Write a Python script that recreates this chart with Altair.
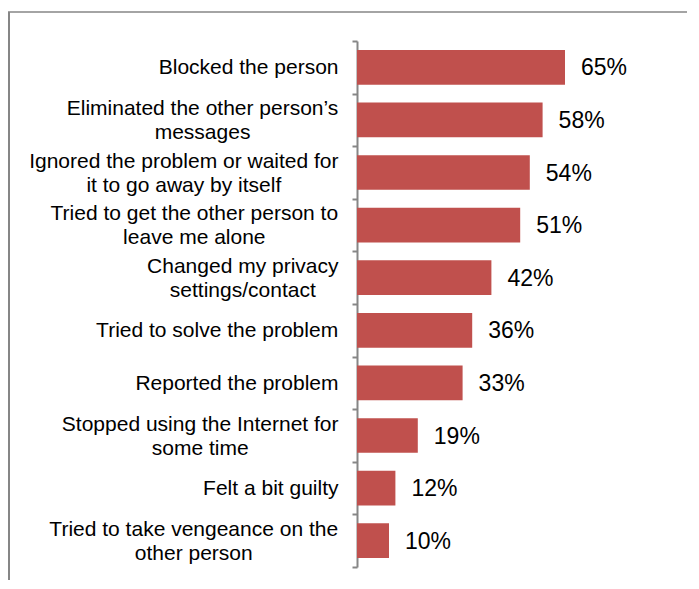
import altair as alt
import pandas as pd

categories = [
    "Blocked the person",
    "Eliminated the other person’s\nmessages",
    "Ignored the problem or waited for\nit to go away by itself",
    "Tried to get the other person to\nleave me alone",
    "Changed my privacy\nsettings/contact",
    "Tried to solve the problem",
    "Reported the problem",
    "Stopped using the Internet for\nsome time",
    "Felt a bit guilty",
    "Tried to take vengeance on the\nother person",
]
values = [0.65, 0.58, 0.54, 0.51, 0.42, 0.36, 0.33, 0.19, 0.12, 0.10]
value_labels = ["65%", "58%", "54%", "51%", "42%", "36%", "33%", "19%", "12%", "10%"]

W, H = 320, 526
PAD_L, PAD_T, PAD_R, PAD_B = 349, 33, 10, 13
GRAY = "#868686"
BAR = "#C0504D"
FONT = "Arial, Liberation Sans, sans-serif"
CAT_SIZE = 21
VAL_SIZE = 23
LINE_H = 24
LABEL_GAP = 18.5

# Arial / Liberation Sans advance widths (per 1000 em) used to centre multi-line labels
ADV = {
    " ": 278, "’": 222, "/": 278, "a": 556, "b": 556, "c": 500, "d": 556, "e": 556,
    "f": 278, "g": 556, "h": 556, "i": 222, "j": 222, "k": 500, "l": 222, "m": 833,
    "n": 556, "o": 556, "p": 556, "q": 556, "r": 333, "s": 500, "t": 278, "u": 556,
    "v": 500, "w": 722, "x": 500, "y": 500, "z": 500, "B": 667, "C": 722, "E": 667,
    "F": 611, "I": 278, "R": 722, "S": 667, "T": 611,
}


def text_width(s, size):
    return sum(ADV.get(ch, 556) for ch in s) * size / 1000.0


step = H / len(categories)
rows = []
for i, (cat, v, vl) in enumerate(zip(categories, values, value_labels)):
    lines = cat.split("\n")
    block = max(text_width(line, CAT_SIZE) for line in lines)
    centre_px = -LABEL_GAP - block / 2.0
    rows.append({
        "idx": i,
        "lo": i + 0.17,
        "hi": i + 0.83,
        "mid": i + 0.5,
        "ycat": i + 0.5 - (len(lines) - 1) * LINE_H / 2.0 / step,
        "value": v,
        "vlabel": vl,
        "cat": cat,
        "xc": centre_px / W,
    })
df = pd.DataFrame(rows)

xscale = alt.Scale(domain=[0, 1], nice=False, zero=False)
yscale = alt.Scale(domain=[0, 10], reverse=True, nice=False, zero=False)

base = alt.Chart(df)

bars = base.mark_bar(color=BAR).encode(
    x=alt.X("value:Q", scale=xscale, axis=None),
    x2=alt.datum(0),
    y=alt.Y(
        "lo:Q",
        scale=yscale,
        axis=alt.Axis(
            values=list(range(11)), labels=False, ticks=True, tickSize=5,
            tickColor=GRAY, tickWidth=2, domainColor=GRAY, domainWidth=2,
            grid=False, title=None,
        ),
    ),
    y2="hi:Q",
)

vals = base.mark_text(
    align="left", baseline="middle", dx=16, dy=1, fontSize=VAL_SIZE, font=FONT, color="black"
).encode(
    x=alt.X("value:Q", scale=xscale, axis=None),
    y=alt.Y("mid:Q", scale=yscale),
    text="vlabel:N",
)

cats = base.mark_text(
    align="center", baseline="middle", lineBreak="\n", lineHeight=LINE_H, dy=1,
    fontSize=CAT_SIZE, font=FONT, color="black",
).encode(
    x=alt.X("xc:Q", scale=xscale, axis=None),
    y=alt.Y("ycat:Q", scale=yscale),
    text="cat:N",
)

one = alt.Chart(pd.DataFrame({"k": [0]}))
frame_left = one.mark_rule(color=GRAY, strokeWidth=2).encode(
    x=alt.value(-348), y=alt.value(-29), y2=alt.value(H + PAD_B)
)
frame_top = one.mark_rule(color=GRAY, strokeWidth=1.5).encode(
    x=alt.value(-349), x2=alt.value(W + PAD_R), y=alt.value(-29)
)

chart = alt.layer(frame_left, frame_top, bars, vals, cats).properties(
    width=W,
    height=H,
    padding={"left": PAD_L, "top": PAD_T, "right": PAD_R, "bottom": PAD_B},
    autosize=alt.AutoSizeParams(type="none"),
).configure_view(stroke=None)

chart.save("out.html", embed_options={"renderer": "svg", "actions": False})
